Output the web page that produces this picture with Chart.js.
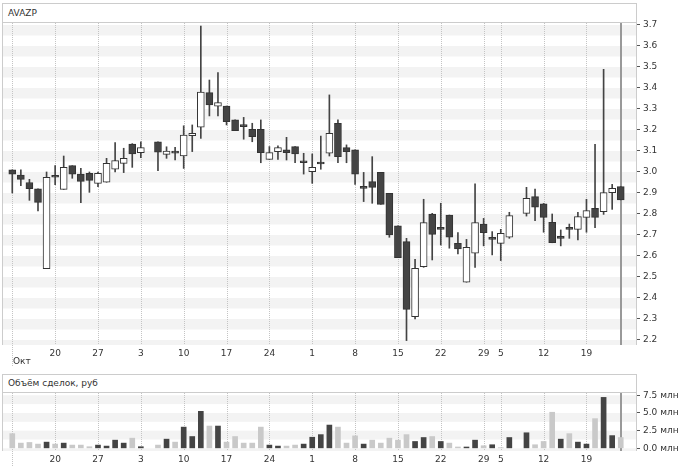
<!DOCTYPE html>
<html>
<head>
<meta charset="utf-8">
<script src="https://cdn.jsdelivr.net/npm/chart.js@4.4.1/dist/chart.umd.min.js"></script>
<style>
  body { margin: 0; background: #fff; font-family: "DejaVu Sans", sans-serif; }
  #wrap { position: relative; width: 680px; height: 467px; overflow: hidden; }
  canvas { position: absolute; left: 0; }
  .frame { position: absolute; box-sizing: border-box; border: 1px solid #ccc; border-bottom: none; pointer-events: none; }
  .head { position: absolute; box-sizing: border-box; border: 1px solid #ccc; font-size: 9px; color: #333; padding-left: 5px; background: #fff; }
  .month { position: absolute; font-size: 9px; color: #333; }
</style>
</head>
<body>
<div id="wrap">
  <canvas id="price" width="680" height="370" style="top:0"></canvas>
  <canvas id="volume" width="680" height="97" style="top:370px"></canvas>
  <div class="frame" style="left:2px;top:3px;width:635px;height:342px"></div>
  <div class="head" style="left:2px;top:3px;width:635px;height:20px;line-height:18px">AVAZP</div>
  <div class="month" style="left:13px;top:356px">Окт</div>
  <div class="frame" style="left:2px;top:374px;width:635px;height:77px"></div>
  <div class="head" style="left:2px;top:374px;width:635px;height:19px;line-height:17px">Объём сделок, руб</div>
</div>
<script>
// one slot per exchange day, 13 Oct 2014 .. 23 Jan 2015 (null = no trades)
const opens = [3.01, 2.985, 2.95, 2.92, 2.54, 2.975, 2.917, 3.03, 2.99, 2.993, 2.946, 2.951, 3.013, 3.041, 3.133, 3.092, null,
  3.143, 3.084, 3.095, 3.076, 3.173, 3.213, 3.378, 3.314, 3.314, 3.248, 3.216, 3.203, 3.203, 3.06, 3.097, 3.105, 3.121, 3.044,
  3.002, 3.038, 3.089, 3.232, 3.116, 3.105, 2.922, 2.954, 2.998, 2.898, 2.743, 2.668, 2.311, 2.549, 2.8, 2.727, 2.795, 2.66,
  2.475, 2.613, 2.752, 2.679, 2.66, 2.689, null, 2.803, 2.883, 2.848, 2.76, 2.684, 2.727, 2.727, 2.784, 2.827, 2.811, 2.902, 2.93];
const highs = [3.01, 3.01, 2.965, 2.92, 3.0, 3.03, 3.076, 3.03, 3.017, 3.0, 3.0, 3.065, 3.14, 3.113, 3.135, 3.143, null,
  3.143, 3.12, 3.117, 3.22, 3.224, 3.695, 3.438, 3.473, 3.314, 3.248, 3.26, 3.232, 3.248, 3.121, 3.124, 3.165, 3.121, 3.089,
  3.086, 3.171, 3.367, 3.248, 3.129, 3.105, 2.998, 3.073, 2.998, 2.898, 2.743, 2.684, 2.584, 2.87, 2.803, 2.851, 2.795, 2.711,
  2.679, 2.943, 2.779, 2.716, 2.727, 2.808, null, 2.927, 2.919, 2.85, 2.8, 2.724, 2.752, 2.808, 2.87, 3.132, 3.489, 2.941, 2.93];
const lows = [2.9, 2.935, 2.865, 2.815, 2.54, 2.94, 2.917, 2.97, 2.854, 2.903, 2.93, 2.951, 3.0, 2.997, 3.022, 3.068, null,
  3.006, 3.065, 3.057, 3.017, 3.097, 3.16, 3.267, 3.267, 3.224, 3.197, 3.156, 3.144, 3.044, 3.06, 3.06, 3.057, 3.044, 2.99,
  2.946, 3.013, 3.076, 3.044, 3.044, 2.941, 2.859, 2.851, 2.846, 2.689, 2.592, 2.197, 2.3, 2.546, 2.581, 2.652, 2.637, 2.61,
  2.475, 2.546, 2.648, 2.605, 2.578, 2.684, null, 2.79, 2.768, 2.713, 2.663, 2.648, 2.684, 2.676, 2.713, 2.735, 2.798, 2.822, 2.867];
const closes = [2.99, 2.965, 2.92, 2.855, 2.975, 2.975, 3.022, 2.99, 2.955, 2.96, 2.994, 3.041, 3.054, 3.065, 3.086, 3.116, null,
  3.094, 3.1, 3.09, 3.176, 3.184, 3.381, 3.319, 3.33, 3.24, 3.197, 3.216, 3.168, 3.092, 3.092, 3.116, 3.092, 3.086, 3.044,
  3.022, 3.038, 3.184, 3.073, 3.097, 2.989, 2.922, 2.927, 2.846, 2.7, 2.592, 2.346, 2.541, 2.759, 2.703, 2.727, 2.689, 2.633,
  2.641, 2.759, 2.711, 2.679, 2.708, 2.792, null, 2.875, 2.832, 2.784, 2.663, 2.684, 2.727, 2.787, 2.816, 2.784, 2.902, 2.922, 2.867];

// volume, млн руб; D = dark bar, L = light bar
const volumes = [2.08, 0.74, 0.83, 0.6, 0.88, 0.6, 0.74, 0.46, 0.46, 0.23, 0.46, 0.32, 1.16, 0.74, 1.44, 0.23, null,
  0.46, 1.3, 0.88, 3.0, 1.67, 5.23, 3.15, 3.15, 0.88, 1.67, 0.74, 0.74, 3.0, 0.46, 0.32, 0.32, 0.46, 0.6,
  1.57, 1.94, 3.29, 3.0, 0.74, 1.76, 0.6, 1.16, 0.74, 1.44, 1.16, 1.94, 0.97, 1.53, 1.67, 0.97, 0.74, 0.19,
  0.19, 1.16, 0.37, 0.51, 0.09, 1.53, null, 2.2, 0.51, 0.97, 5.1, 1.3, 2.08, 0.88, 0.6, 4.2, 7.2, 1.8, 1.53];
const volumeTone = "LLLLDLDLLLDDDDLD-LDLDDDLDLLLLLDDLLDDDDLLLDLLLLLDDLDLLDDLDLD-DLLLDLDDLDDL";

// x axis: slot of each labelled day and its label
const tickSlots = [0, 5, 10, 15, 20, 25, 30, 35, 40, 45, 50, 55, 57, 62, 67];
const tickLabels = ["", "20", "27", "3", "10", "17", "24", "1", "8", "15", "22", "29", "5", "12", "19"];
const priceTicks = [2.2, 2.3, 2.4, 2.5, 2.6, 2.7, 2.8, 2.9, 3.0, 3.1, 3.2, 3.3, 3.4, 3.5, 3.6, 3.7];
const volumeTicks = [0, 2.5, 5, 7.5];

const lastSlot = opens.length - 1;
const dark = "#444", light = "#c9c9c9";
const tickFont = { family: "DejaVu Sans", size: 9 };

// bands, dotted day lines and the "today" marker
const panelPlugin = {
  id: "panel",
  beforeDatasetsDraw(chart, args, opts) {
    const { ctx, chartArea: a, scales: { x, y } } = chart;
    ctx.save();
    ctx.beginPath();
    ctx.rect(a.left, a.top, a.right - a.left, a.bottom - a.top);
    ctx.clip();
    ctx.fillStyle = "#f3f3f3";
    opts.bands.forEach(v => {
      const y0 = y.getPixelForValue(v), y1 = y.getPixelForValue(v - opts.step / 2);
      ctx.fillRect(a.left, y0, a.right - a.left, y1 - y0);
    });
    ctx.restore();

    ctx.save();
    ctx.strokeStyle = "#c4c4c4";
    ctx.lineWidth = 1;
    ctx.setLineDash([1, 1]);
    tickSlots.forEach((s, i) => {
      const px = Math.round(x.getPixelForValue(s)) + 0.5;
      ctx.beginPath();
      ctx.moveTo(px, a.top);
      ctx.lineTo(px, i === 0 ? opts.firstLineEnd : a.bottom);
      ctx.stroke();
    });
    ctx.setLineDash([]);
    ctx.strokeStyle = "#999";
    ctx.lineWidth = 2;
    const mx = Math.round(x.getPixelForValue(lastSlot));
    ctx.beginPath();
    ctx.moveTo(mx, a.top);
    ctx.lineTo(mx, a.bottom);
    ctx.stroke();
    ctx.restore();
  }
};

function xAxis(height) {
  return {
    type: "linear", min: -1.2, max: 72.78, offset: false,
    grid: { display: false, drawTicks: false }, border: { display: false },
    afterBuildTicks: s => { s.ticks = tickSlots.map(v => ({ value: v })); },
    afterFit: s => { s.height = height; },
    ticks: { autoSkip: false, maxRotation: 0, padding: 3, color: "#333", font: tickFont,
      callback: (v, i) => tickLabels[i] }
  };
}

function yAxis(min, max, ticks, fmt) {
  return {
    position: "right", min: min, max: max,
    grid: { drawOnChartArea: false, drawTicks: true, tickLength: 4, color: "#555" },
    border: { display: false },
    afterBuildTicks: s => { s.ticks = ticks.map(v => ({ value: v })); },
    afterFit: s => { s.width = 44; },
    ticks: { padding: 3, color: "#333", font: tickFont, callback: fmt }
  };
}

const slots = opens.map((o, i) => i).filter(i => opens[i] !== null);

new Chart(document.getElementById("price"), {
  type: "bar",
  data: {
    datasets: [
      {
        label: "body",
        order: 0,
        grouped: false,
        data: slots.map(i => ({ x: i, y: [Math.min(opens[i], closes[i]), Math.max(opens[i], closes[i])] })),
        backgroundColor: slots.map(i => closes[i] > opens[i] ? "#fff" : dark),
        borderColor: "#333",
        borderWidth: 1,
        borderSkipped: false,
        barThickness: 7,
        minBarLength: 2
      },
      {
        label: "wick",
        order: 1,
        grouped: false,
        data: slots.map(i => ({ x: i, y: [lows[i], highs[i]] })),
        backgroundColor: dark,
        barThickness: 1
      }
    ]
  },
  options: {
    responsive: false,
    animation: false,
    devicePixelRatio: 1,
    layout: { padding: { left: 2, top: 23, right: 0, bottom: 0 } },
    plugins: {
      legend: { display: false },
      tooltip: { enabled: false },
      panel: { bands: priceTicks, step: 0.1, firstLineEnd: 366 }
    },
    scales: {
      x: xAxis(25),
      y: yAxis(2.176, 3.7095, priceTicks, v => v.toFixed(1))
    }
  },
  plugins: [panelPlugin]
});

const volSlots = volumes.map((v, i) => i).filter(i => volumes[i] !== null);

new Chart(document.getElementById("volume"), {
  type: "bar",
  data: {
    datasets: [{
      label: "Объём сделок, руб",
      data: volSlots.map(i => ({ x: i, y: volumes[i] })),
      backgroundColor: volSlots.map(i => volumeTone[i] === "D" ? dark : light),
      barThickness: 5
    }]
  },
  options: {
    responsive: false,
    animation: false,
    devicePixelRatio: 1,
    layout: { padding: { left: 2, top: 23, right: 0, bottom: 0 } },
    plugins: {
      legend: { display: false },
      tooltip: { enabled: false },
      panel: { bands: volumeTicks, step: 2.5, firstLineEnd: 97 }
    },
    scales: {
      x: xAxis(16),
      y: yAxis(-0.375, 7.82, volumeTicks, v => v.toFixed(1) + " млн")
    }
  },
  plugins: [panelPlugin]
});
</script>
</body>
</html>
